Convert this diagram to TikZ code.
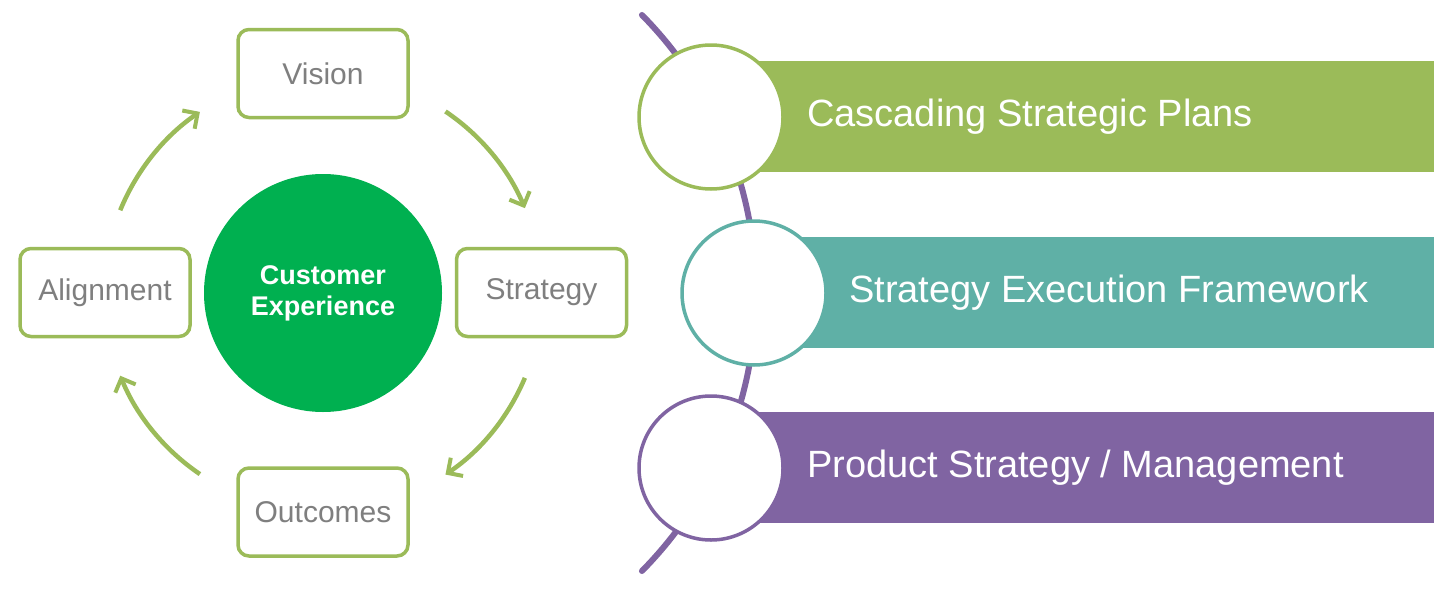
\documentclass[tikz,border=0pt]{standalone}
\usepackage{fontspec}
\setmainfont{Liberation Sans}
\usetikzlibrary{arrows.meta}
\definecolor{lgreen}{HTML}{9BBB59}
\definecolor{cgreen}{HTML}{00B050}
\definecolor{cteal}{HTML}{5FB0A6}
\definecolor{cpurple}{HTML}{8064A2}
\definecolor{tgray}{HTML}{7F7F7F}
\begin{document}
\begin{tikzpicture}[x=1pt,y=-1pt,
  cyclebox/.style={draw=lgreen, line width=3.5pt, rounded corners=11pt, fill=white,
    minimum width=170pt, minimum height=88pt, inner sep=0pt,
    text=tgray, font=\fontsize{30}{36}\selectfont},
  cyclearrow/.style={draw=lgreen, line width=4.5pt,
    -{Straight Barb[length=11pt, width=22pt, line width=4pt]}},
  barrect/.style={inner sep=0pt},
  ringnode/.style={circle, fill=white, line width=3.5pt, minimum size=144pt, inner sep=0pt},
  bartext/.style={text=white, font=\fontsize{38}{44}\selectfont, anchor=west, inner sep=0pt}]
\useasboundingbox (0,0) rectangle (1448,589);
% ---------- left cycle ----------
\node[circle, fill=cgreen, minimum size=238pt, inner sep=0pt, text=white,
  font=\bfseries\fontsize{27}{31}\selectfont, align=center] (cx) at (323,293)
  {Customer\\Experience};
\node[cyclebox] (vision) at (323,73.5) {Vision};
\node[cyclebox] (strategy) at (541.5,292.5) {Strategy};
\node[cyclebox] (outcomes) at (323,512) {Outcomes};
\node[cyclebox] (alignment) at (105,292.5) {Alignment};
\coordinate (c0) at (323,293);
\draw[cyclearrow] (c0) ++(202.2:219) arc[start angle=202.2, end angle=235.8, radius=219];
\draw[cyclearrow] (c0) ++(304:219) arc[start angle=304, end angle=337.2, radius=219];
\draw[cyclearrow] (c0) ++(22.8:219) arc[start angle=22.8, end angle=56, radius=219];
\draw[cyclearrow] (c0) ++(124.2:219) arc[start angle=124.2, end angle=157.8, radius=219];
% ---------- right list ----------
\coordinate (pc) at (360,293);
\draw[cpurple, line width=6pt, line cap=round] (pc) ++(-44.6:396) arc[start angle=-44.6, end angle=44.6, radius=396];
\fill[lgreen] (711,61) rectangle (1434,172);
\fill[cteal] (754,237) rectangle (1434,348);
\fill[cpurple] (711,412) rectangle (1434,523);
\node[ringnode, draw=lgreen] (r1) at (711,117) {};
\node[ringnode, draw=cteal] (r2) at (754,293) {};
\node[ringnode, draw=cpurple] (r3) at (711,468) {};
\node[bartext] (t1) at (807,117) {Cascading Strategic Plans};
\node[bartext] (t2) at (849,293) {Strategy Execution Framework};
\node[bartext] (t3) at (807,468) {Product Strategy / Management};
\end{tikzpicture}
\end{document}
